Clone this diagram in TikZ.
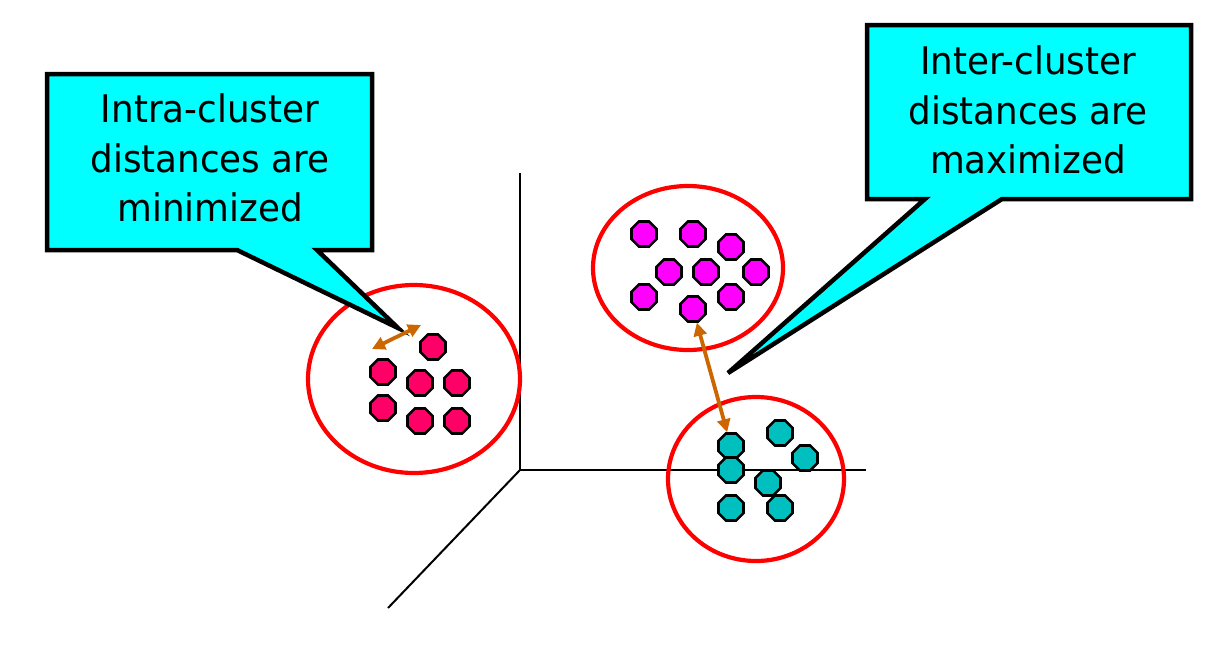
\documentclass[tikz,border=0pt]{standalone}
\usepackage{fontspec}
\setmainfont[FakeStretch=0.94]{DejaVu Sans}
\usetikzlibrary{shapes.geometric,arrows.meta}
\definecolor{callcyan}{HTML}{00FFFF}
\definecolor{ptpink}{HTML}{FF0066}
\definecolor{ptmag}{HTML}{FF00FF}
\definecolor{ptteal}{HTML}{00BFBF}
\definecolor{arrorange}{HTML}{CC6600}
\definecolor{ringred}{HTML}{FF0000}
\tikzset{
  oct/.style={regular polygon, regular polygon sides=8, minimum size=27pt, inner sep=0pt, draw=black, line width=2.6pt},
  pink/.style={oct, fill=ptpink},
  mag/.style={oct, fill=ptmag},
  teal/.style={oct, fill=ptteal},
  ring/.style={draw=ringred, line width=4.2pt},
  callout/.style={fill=callcyan, draw=black, line width=4.5pt, line join=miter},
  calltext/.style={align=center, font=\fontsize{38}{49.5}\selectfont, inner sep=0pt},
  axis/.style={draw=black, line width=2pt},
  distarrow/.style={draw=arrorange, line width=3.8pt, {Triangle[length=13pt,width=13pt]}-{Triangle[length=13pt,width=13pt]}}
}
\begin{document}
\begin{tikzpicture}[x=1pt,y=-1pt]
\useasboundingbox[fill=white] (0,0) rectangle (1229,645);
% axes
\coordinate (O) at (520,470);
\coordinate (Ytop) at (520,173);
\coordinate (Xend) at (866,470);
\coordinate (Zend) at (388,608);
\draw[axis] (Ytop) -- (O) -- (Xend);
\draw[axis] (O) -- (Zend);
% rings
\draw[ring] (414,379) ellipse [x radius=106, y radius=94];
\draw[ring] (688,268) ellipse [x radius=95, y radius=82];
\draw[ring] (756,479) ellipse [x radius=88, y radius=82];
% pink cluster
\node[pink] (p1) at (433,347) {};
\node[pink] (p2) at (383,372) {};
\node[pink] (p3) at (420,383) {};
\node[pink] (p4) at (457,383) {};
\node[pink] (p5) at (383,408) {};
\node[pink] (p6) at (420,421) {};
\node[pink] (p7) at (457,421) {};
% magenta cluster
\node[mag] (m1) at (644,234) {};
\node[mag] (m2) at (693,234) {};
\node[mag] (m3) at (731,247) {};
\node[mag] (m4) at (669,272) {};
\node[mag] (m5) at (706,272) {};
\node[mag] (m6) at (756,272) {};
\node[mag] (m7) at (644,297) {};
\node[mag] (m8) at (731,297) {};
\node[mag] (m9) at (693,309) {};
% teal cluster
\node[teal] (t3) at (780,433) {};
\node[teal] (t4) at (805,458) {};
\node[teal] (t1) at (731,446) {};
\node[teal] (t2) at (731,470) {};
\node[teal] (t5) at (768,483) {};
\node[teal] (t6) at (731,508) {};
\node[teal] (t7) at (780,508) {};
% callouts
\draw[callout] (47,74) -- (372,74) -- (372,250) -- (317,250) -- (398,328) -- (237,250) -- (47,250) -- cycle;
\node[calltext] (intra) at (210,158) {Intra-cluster\\distances are\\minimized};
\draw[callout] (867,25) -- (1191,25) -- (1191,199) -- (1002,199) -- (728,373) -- (925,199) -- (867,199) -- cycle;
\node[calltext] (inter) at (1028,110) {Inter-cluster\\distances are\\maximized};
% distance arrows
\coordinate (intraA) at (372,349);
\coordinate (intraB) at (421,325);
\draw[distarrow] (intraA) -- (intraB);
\draw[distarrow] (m9) -- (t1);
\end{tikzpicture}
\end{document}
